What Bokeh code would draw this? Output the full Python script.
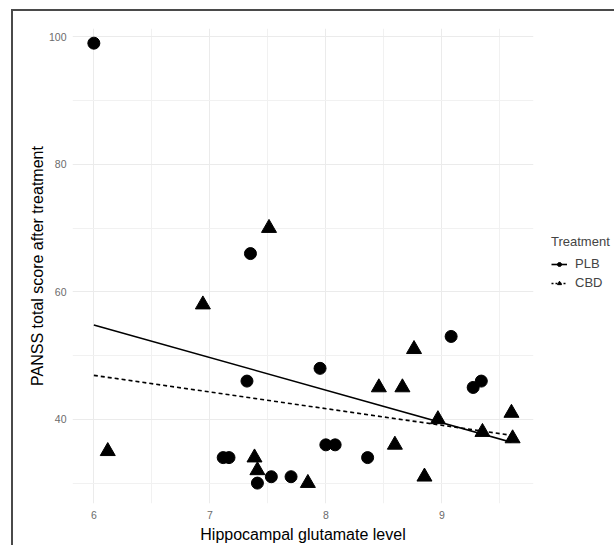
from bokeh.plotting import figure
from bokeh.models import Legend, LegendItem, FixedTicker, ColumnDataSource
from bokeh.embed import file_html
from bokeh.resources import INLINE

# PLB (placebo) observations
plb_x = [6.00, 7.35, 7.32, 7.115, 7.165, 7.41, 7.53, 7.70, 7.95, 8.00, 8.08, 8.36, 9.08, 9.27, 9.34]
plb_y = [99, 66, 46, 34, 34, 30, 31, 31, 48, 36, 36, 34, 53, 45, 46]

# CBD observations
cbd_x = [7.51, 6.94, 6.12, 7.385, 7.41, 7.845, 8.457, 8.66, 8.76, 8.595, 8.85, 8.966, 9.35, 9.60, 9.61]
cbd_y = [70, 58, 35, 34, 32, 30, 45, 45, 51, 36, 31, 40, 38, 41, 37]

# fitted regression lines (endpoints)
fit_x = [6.0, 9.6]
plb_fit = [54.8, 36.4]
cbd_fit = [46.9, 37.5]

x_ticks = [6, 7, 8, 9]
x_minor = [6.5, 7.5, 8.5, 9.5]
y_ticks = [40, 60, 80, 100]
y_minor = [30, 50, 70, 90]

FONT = "Liberation Sans"

p = figure(
    output_backend="svg", toolbar_location=None,
    frame_width=461, frame_height=475,
    x_range=(5.816, 9.79), y_range=(26.8, 101.3),
    min_border_left=59, min_border_top=17, min_border_bottom=41, min_border_right=78,
    background_fill_color="white", border_fill_color="white", outline_line_color=None,
)
p.styles = {"margin-left": "11px", "margin-top": "9px",
            "border-left": "2px solid #4a4a4a", "border-top": "2px solid #4a4a4a"}

for ax, ticks, minor in ((p.xaxis[0], x_ticks, x_minor), (p.yaxis[0], y_ticks, y_minor)):
    ax.ticker = FixedTicker(ticks=ticks, minor_ticks=minor)
    ax.axis_line_color = None
    ax.major_tick_line_color = None
    ax.minor_tick_line_color = None
    ax.major_tick_out = 0
    ax.major_tick_in = 0
    ax.minor_tick_out = 0
    ax.minor_tick_in = 0
    ax.major_label_text_font = FONT
    ax.major_label_text_font_size = "10.5px"
    ax.major_label_text_color = "#6b6b6b"
    ax.axis_label_text_font = FONT
    ax.axis_label_text_font_size = "16px"
    ax.axis_label_text_font_style = "normal"
    ax.axis_label_text_color = "black"

p.xaxis.axis_label = "Hippocampal glutamate level"
p.yaxis.axis_label = "PANSS total score after treatment"
p.xaxis.major_label_standoff = 7
p.xaxis.axis_label_standoff = 4
p.yaxis.major_label_standoff = 6
p.yaxis.axis_label_standoff = 0

for g in (p.xgrid[0], p.ygrid[0]):
    g.grid_line_color = "#ebebeb"
    g.grid_line_width = 1
    g.minor_grid_line_color = "#f1f1f1"
    g.minor_grid_line_width = 1

p.line(fit_x, plb_fit, line_color="black", line_width=1.6)
p.line(fit_x, cbd_fit, line_color="black", line_width=1.6, line_dash="4 3")

p.scatter(plb_x, plb_y, marker="circle", size=12, fill_color="black", line_color="black")
p.scatter(cbd_x, cbd_y, marker="triangle", size=15, fill_color="black", line_color="black")

# legend proxies (a single missing value each, so nothing is drawn in the panel)
nan_src = ColumnDataSource(data=dict(x=[float("nan")], y=[float("nan")]))
l1 = p.line("x", "y", source=nan_src, line_color="black", line_width=1.6)
m1 = p.scatter("x", "y", source=nan_src, marker="circle", size=5, fill_color="black", line_color="black")
l2 = p.line("x", "y", source=nan_src, line_color="black", line_width=1.6, line_dash="2 2")
m2 = p.scatter("x", "y", source=nan_src, marker="triangle", size=6, fill_color="black", line_color="black")

legend = Legend(items=[LegendItem(label="PLB", renderers=[l1, m1]),
                       LegendItem(label="CBD", renderers=[l2, m2])],
                location=(18, 212), orientation="vertical")
legend.title = "Treatment"
legend.title_text_font = FONT
legend.title_text_font_size = "13px"
legend.title_text_font_style = "normal"
legend.title_standoff = 6
legend.label_text_font = FONT
legend.label_text_font_size = "13px"
legend.label_standoff = 8
legend.glyph_width = 16
legend.glyph_height = 10
legend.label_height = 17
legend.spacing = 2
legend.padding = 0
legend.margin = 0
legend.border_line_color = None
legend.background_fill_alpha = 0
p.add_layout(legend, "right")

open("out.html", "w").write(file_html(p, INLINE))
